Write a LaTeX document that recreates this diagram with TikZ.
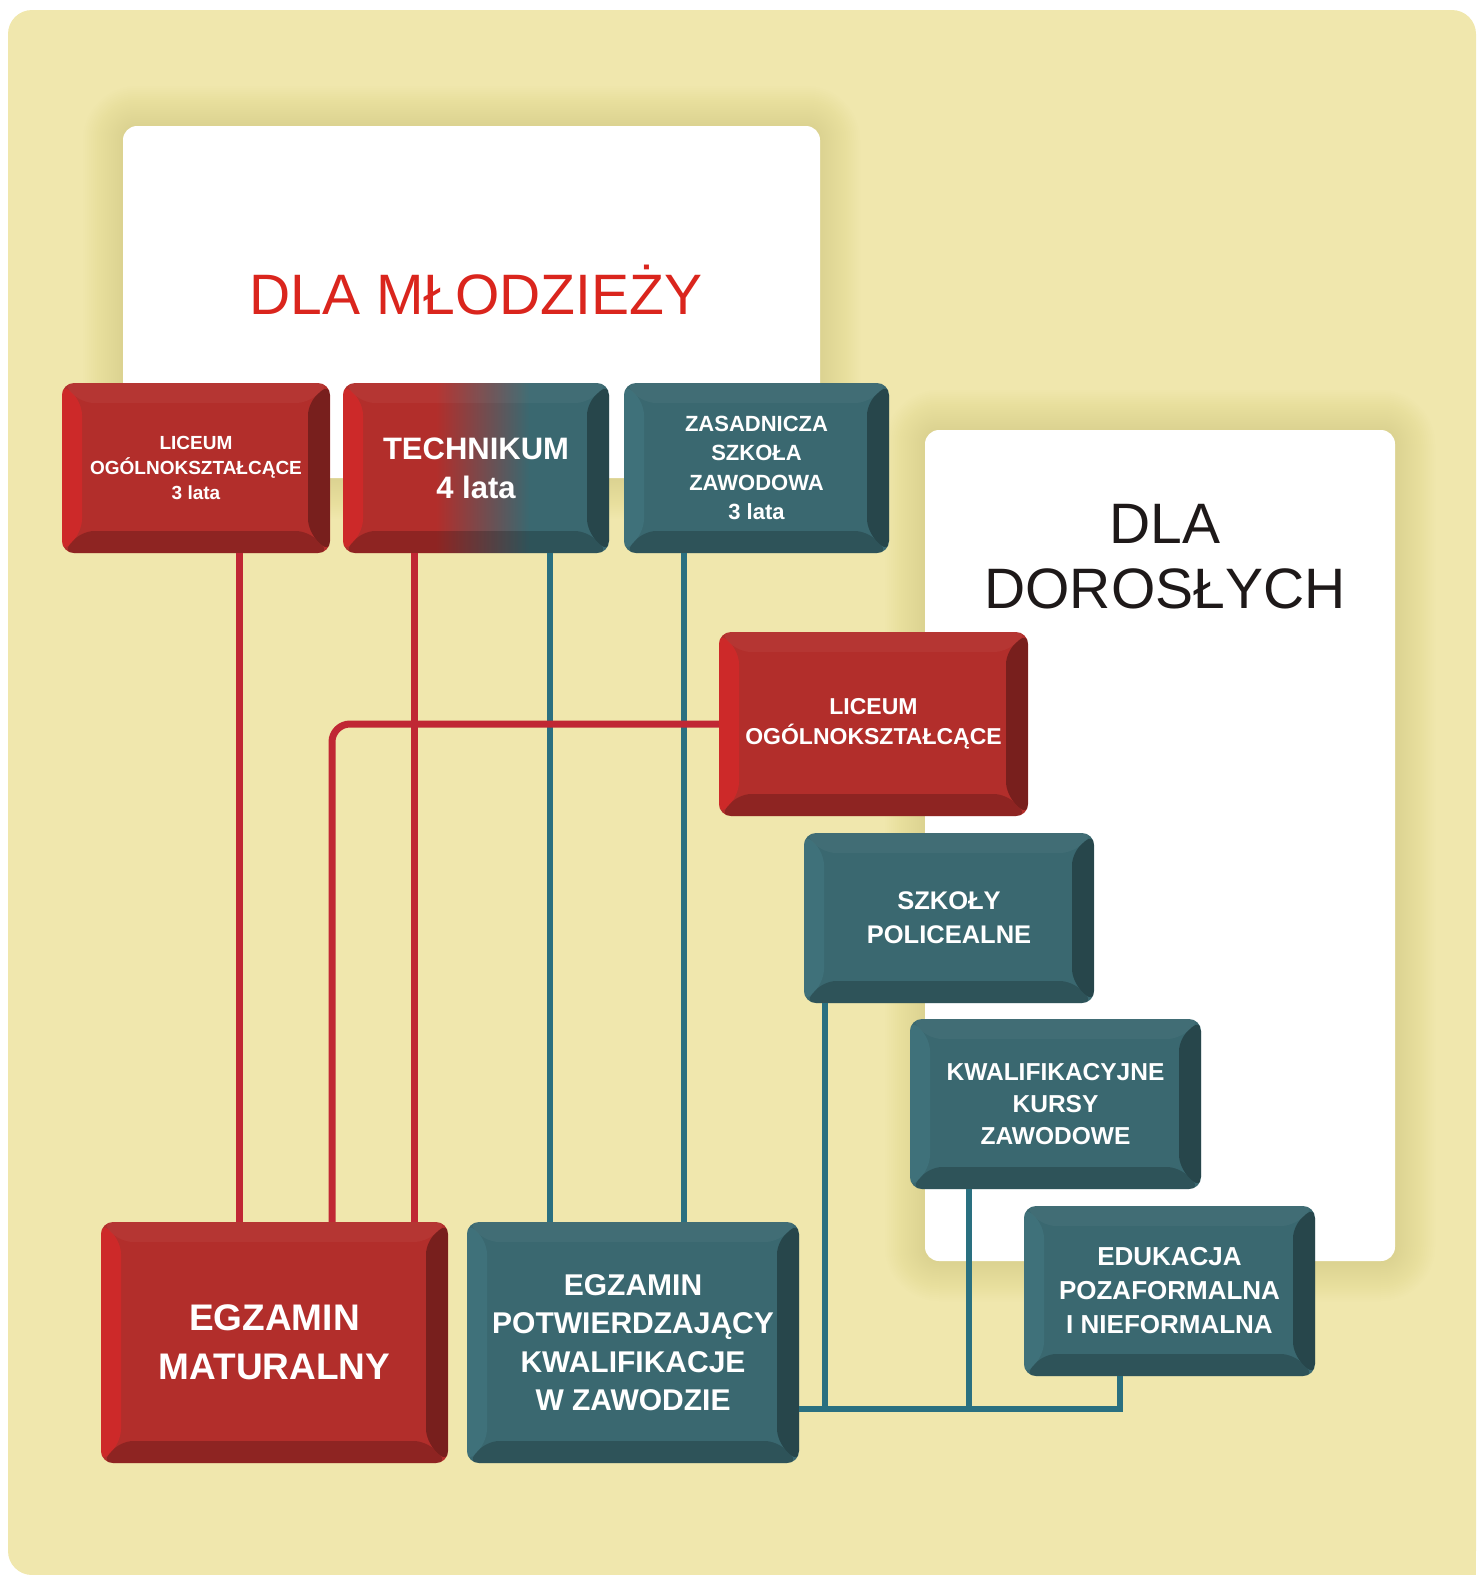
\documentclass[tikz,border=0pt]{standalone}
\usepackage{fontspec}
\setmainfont{Liberation Sans}
\usetikzlibrary{calc}
\definecolor{bg}{RGB}{240,231,173}
\definecolor{shd}{RGB}{185,170,95}
\definecolor{rface}{RGB}{178,46,43}
\definecolor{rleft}{RGB}{232,38,40}
\definecolor{tface}{RGB}{58,104,112}
\definecolor{tleft}{RGB}{68,122,132}
\definecolor{rline}{RGB}{192,39,52}
\definecolor{tline}{RGB}{42,112,128}
\definecolor{ttl}{RGB}{218,37,29}
\definecolor{ink}{RGB}{30,25,25}
\pgfdeclarehorizontalshading{techshade}{100bp}{color(0bp)=(rface); color(42.5bp)=(rface); color(60bp)=(tface); color(100bp)=(tface)}
\tikzset{
  bevel/.style={
    path picture={
      \coordinate (P) at (path picture bounding box.north west);
      \coordinate (Q) at (path picture bounding box.south east);
      \coordinate (R) at (P -| Q);
      \coordinate (S) at (P |- Q);
      \coordinate (p) at ($(P)+(20,20)$);
      \coordinate (q) at ($(Q)+(-22,-22)$);
      \coordinate (r) at (p -| q);
      \coordinate (s) at (p |- q);
      \fill[#1,opacity=.5] (P) -- (p) -- (s) -- (S) -- cycle;
      \fill[white,opacity=.04] (P) -- (R) -- (r) -- (p) -- cycle;
      \fill[black,opacity=.32] (R) -- (Q) -- (q) -- (r) -- cycle;
      \fill[black,opacity=.2] (S) -- (s) -- (q) -- (Q) -- cycle;
    }
  },
  box/.style={rounded corners=12pt, inner sep=0pt, align=center, text=white},
  redbox/.style={box, fill=rface, bevel=rleft},
  tealbox/.style={box, fill=tface, bevel=tleft},
  fs/.style 2 args={font=\bfseries\fontsize{#1}{#2}\selectfont},
  rl/.style={draw=rline, line width=7pt},
  tl/.style={draw=tline, line width=6.5pt},
  panel/.style={fill=white, rounded corners=14pt}
}
\begin{document}
\begin{tikzpicture}[x=1pt,y=-1pt]
\useasboundingbox (0,0) rectangle (1476,1575);
% background
\fill[bg, rounded corners=24pt] (8,10) rectangle (1476,1575);
\fill[bg] (1400,1500) rectangle (1476,1575);
% glows
\foreach \k in {1,...,20}{
  \fill[shd, opacity=0.014, rounded corners=(14+\k*2)*1pt] (123-\k*2,126-\k*2) rectangle (820+\k*2,478+\k*2);
  \fill[shd, opacity=0.014, rounded corners=(14+\k*2)*1pt] (925-\k*2,430-\k*2) rectangle (1395+\k*2,1261+\k*2);
}
% panels
\path[panel] (123,126) rectangle (820,478);
\path[panel] (925,430) rectangle (1395,1261);
\node[font=\fontsize{57}{60}\selectfont, text=ttl, anchor=base, inner sep=0pt] (t1) at (476,314) {DLA MŁODZIEŻY};
\node[font=\fontsize{57}{65}\selectfont, text=ink, align=center, anchor=base, inner sep=0pt] (t2) at (1165,608) {DLA\\DOROSŁYCH};
% boxes
\node[redbox, fs={19}{25}, minimum width=268pt, minimum height=170pt] (lic1) at (196,468) {LICEUM\\OGÓLNOKSZTAŁCĄCE\\3 lata};
\node[box, shade, shading=techshade, bevel=rleft, fs={31}{39}, minimum width=266pt, minimum height=170pt] (tech) at (476,468) {TECHNIKUM\\4 lata};
\node[tealbox, fs={22}{29.5}, minimum width=265pt, minimum height=170pt] (zsz) at (756.5,468) {ZASADNICZA\\SZKOŁA\\ZAWODOWA\\3 lata};
\node[redbox, fs={23}{30}, minimum width=309pt, minimum height=184pt] (lic2) at (873.5,724) {LICEUM\\OGÓLNOKSZTAŁCĄCE};
\node[tealbox, fs={25.5}{34}, minimum width=290pt, minimum height=170pt] (pol) at (949,918) {SZKOŁY\\POLICEALNE};
\node[tealbox, fs={24.5}{32}, minimum width=291pt, minimum height=170pt] (kkz) at (1055.5,1104) {KWALIFIKACYJNE\\KURSY\\ZAWODOWE};
\node[tealbox, fs={26}{34}, minimum width=291pt, minimum height=170pt] (edu) at (1169.5,1291) {EDUKACJA\\POZAFORMALNA\\I NIEFORMALNA};
\node[redbox, fs={37}{49}, minimum width=347pt, minimum height=241pt] (mat) at (274.5,1342.5) {EGZAMIN\\MATURALNY};
\node[tealbox, fs={30}{38.5}, minimum width=332pt, minimum height=241pt] (pot) at (633,1342.5) {EGZAMIN\\POTWIERDZAJĄCY\\KWALIFIKACJE\\W ZAWODZIE};
% connector guide coordinates
\coordinate (xa) at (239,0);
\coordinate (xb) at (414,0);
\coordinate (xc) at (550,0);
\coordinate (xd) at (684,0);
\coordinate (xe) at (332,0);
\coordinate (xp) at (825,0);
\coordinate (xk) at (969,0);
\coordinate (xu) at (1120,0);
\coordinate (yb) at (0,1409);
% connectors
\draw[tl] (tech.south -| xc) -- (pot.north -| xc);
\draw[tl] (zsz.south -| xd) -- (pot.north -| xd);
\draw[rl] (lic1.south -| xa) -- (mat.north -| xa);
\draw[rl] (tech.south -| xb) -- (mat.north -| xb);
\draw[rl, rounded corners=18pt] (lic2.west) -| (mat.north -| xe);
\draw[tl] (pot.east |- yb) -| (edu.south -| xu);
\draw[tl] (pol.south -| xp) -- (xp |- yb);
\draw[tl] (kkz.south -| xk) -- (xk |- yb);
\end{tikzpicture}
\end{document}
